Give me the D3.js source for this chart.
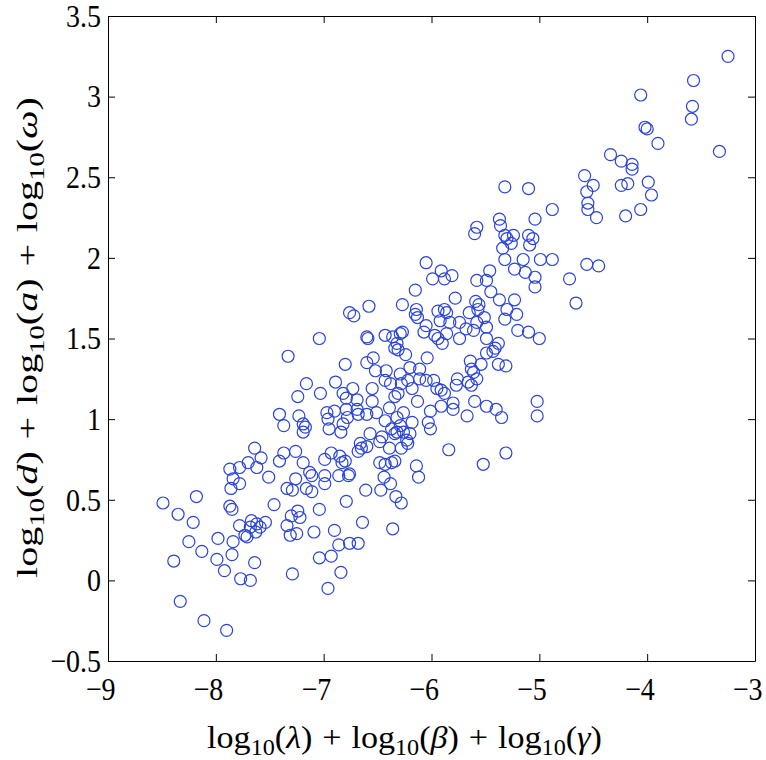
<!DOCTYPE html>
<html><head><meta charset="utf-8">
<script src="https://cdn.jsdelivr.net/npm/d3@7"></script>
<style>body{margin:0;background:#fff} text{font-family:"Liberation Serif","Times New Roman",serif}</style>
</head><body><svg id="c" width="766" height="760"></svg>
<script>
const xValues=[-8.49,-8.18,-8.35,-8.21,-8.25,-8.13,-8.39,-7.98,-7.84,-7.85,-7.99,-7.92,-7.77,-7.68,-7.64,-8.33,-8.11,-7.90,-7.29,-7.87,
-7.78,-7.62,-7.51,-7.84,-7.78,-7.86,-7.87,-7.85,-7.46,-7.78,-7.67,-7.73,-7.71,-7.63,-7.62,-7.54,-7.59,-7.68,-7.26,-7.34,
-7.29,-7.16,-7.11,-7.13,-7.11,-7.34,-7.31,-7.25,-7.30,-7.24,-7.22,-7.09,-7.04,-7.04,-7.04,-7.33,-7.16,-7.24,-7.03,-7.41,
-7.37,-7.23,-7.19,-7.17,-7.19,-7.64,-7.58,-7.37,-7.26,-7.41,-7.19,-7.70,-6.99,-6.99,-6.86,-6.77,-6.76,-6.61,-6.79,-6.47,
-6.44,-6.38,-6.33,-6.28,-6.12,-6.14,-5.52,-6.64,-6.36,-6.90,-6.86,-6.76,-6.68,-6.93,-6.84,-6.96,-6.60,-6.59,-6.43,-6.36,
-6.29,-6.27,-6.32,-6.34,-6.31,-6.07,-6.05,-5.97,-5.94,-5.90,-5.86,-5.74,-5.68,-5.61,-5.49,-6.24,-6.04,-5.49,-5.64,-5.54,
-5.63,-5.61,-6.80,-6.60,-6.54,-6.52,-6.42,-6.20,-6.11,-6.29,-6.43,-6.38,-6.28,-6.22,-6.18,-6.11,-6.05,-5.98,-5.95,-5.91,
-5.88,-5.76,-5.77,-5.66,-5.63,-5.58,-6.89,-6.73,-6.55,-6.82,-6.79,-6.69,-6.55,-6.34,-6.31,-6.13,-5.80,-5.80,-5.60,-5.49,
-5.67,-5.91,-6.01,-6.03,-6.01,-6.39,-6.26,-6.51,-6.60,-6.69,-6.68,-6.79,-6.78,-6.90,-6.97,-6.96,-6.95,-6.82,-6.84,-6.43,
-6.32,-6.18,-6.29,-6.37,-6.32,-6.34,-6.26,-6.23,-6.20,-6.57,-6.46,-6.39,-6.28,-6.66,-6.60,-6.65,-5.84,-6.93,-6.99,-6.85,
-6.80,-6.83,-6.48,-6.43,-6.37,-6.34,-6.68,-6.48,-6.22,-5.58,-5.60,-6.05,-5.91,-5.81,-5.99,-5.88,-5.58,-5.49,-5.46,-6.15,
-5.78,-5.45,-6.58,-6.76,-6.72,-6.27,-6.14,-6.15,-6.13,-5.94,-5.88,-5.86,-5.92,-5.65,-5.59,-5.56,-5.57,-5.83,-5.74,-5.58,
-5.51,-5.49,-5.20,-5.10,-5.00,-5.38,-5.41,-5.43,-5.38,-5.31,-5.02,-5.02,-5.40,-5.35,-5.31,-5.32,-5.10,-4.58,-4.50,-4.56,
-4.55,-4.55,-4.47,-4.88,-5.04,-5.37,-5.36,-5.32,-5.24,-5.30,-5.26,-5.34,-5.10,-5.06,-5.09,-5.32,-5.15,-4.99,-4.88,-5.23,
-5.13,-5.04,-5.04,-4.72,-4.56,-4.45,-4.66,-5.37,-5.23,-5.30,-5.21,-5.32,-4.14,-4.24,-4.18,-3.99,-3.96,-4.06,-4.20,-3.25,
-3.57,-4.06,-3.58,-3.59,-4.02,-4.00,-3.90,-3.33,-4.34,-4.24,-4.14];
const yValues=[0.48,0.52,0.41,0.36,0.24,0.18,0.12,0.26,0.24,0.16,0.13,0.06,0.01,0.00,0.11,-0.13,-0.25,-0.31,0.04,0.69,
0.70,0.70,0.64,0.63,0.60,0.57,0.46,0.44,0.47,0.34,0.37,0.28,0.27,0.30,0.35,0.36,0.33,0.33,0.63,0.57,
0.56,0.57,0.55,0.67,0.65,0.34,0.28,0.29,0.40,0.43,0.39,0.30,0.44,0.14,1.50,1.39,1.22,1.14,1.16,1.03,
0.96,1.02,0.97,0.95,0.92,0.82,0.76,0.79,0.80,0.74,0.73,0.73,0.65,0.60,0.65,0.65,0.66,0.56,0.49,0.56,
0.64,0.60,0.52,0.48,0.64,0.71,0.72,0.36,0.32,0.31,0.22,0.23,0.23,0.15,0.05,-0.05,1.51,1.50,1.52,1.51,
1.53,1.54,1.47,1.44,1.43,1.54,1.58,1.52,1.50,1.47,1.53,1.50,1.56,1.55,1.50,1.40,1.38,1.41,1.36,1.34,
1.31,1.29,1.34,1.35,1.38,1.30,1.30,1.32,1.31,1.28,1.24,1.22,1.22,1.24,1.19,1.25,1.24,1.24,1.19,1.18,
1.16,1.25,1.21,1.23,1.21,1.25,1.23,1.19,1.19,1.16,1.13,1.12,1.11,1.14,1.16,1.11,1.10,1.06,1.11,1.08,
1.02,1.08,1.05,0.98,0.94,1.07,1.04,1.04,1.03,1.06,1.03,1.06,1.01,1.05,1.04,1.00,0.94,0.97,0.92,0.99,
1.01,0.98,0.96,0.94,0.92,0.91,0.92,0.87,0.91,0.91,0.89,0.82,0.82,0.85,0.83,0.82,0.81,0.79,0.75,0.77,
0.74,0.73,0.73,0.72,0.73,0.74,0.80,0.86,0.85,2.19,2.15,1.97,1.92,1.89,1.87,1.87,1.86,1.86,1.92,1.80,
1.75,1.79,1.70,1.66,1.64,1.71,1.68,1.65,1.63,1.67,1.68,1.66,1.61,1.66,1.73,1.71,1.68,1.60,1.60,1.60,
1.63,1.57,1.55,1.54,1.50,1.47,1.44,1.42,1.34,1.33,1.11,1.02,1.06,1.01,0.79,2.44,2.43,2.51,2.45,2.41,
2.34,2.30,2.25,2.30,2.24,2.24,2.20,2.14,2.14,2.12,2.09,2.06,2.14,2.12,2.08,1.99,1.99,1.99,1.99,1.93,
1.91,1.88,1.82,1.87,1.96,1.95,1.72,1.74,1.74,1.68,1.65,1.62,2.55,2.45,2.46,2.47,2.39,2.30,2.26,3.25,
3.10,3.01,2.94,2.86,2.81,2.80,2.71,2.66,2.64,2.60,2.58];
const xTicks=[-9,-8,-7,-6,-5,-4,-3];
const yTicks=[-0.5,0,0.5,1,1.5,2,2.5,3,3.5];
const xDomain=[-9,-3], yDomain=[-0.5,3.5];

const svg=d3.select("#c");
const m={l:108,r:755,t:16,b:661};
const x=d3.scaleLinear().domain(xDomain).range([m.l,m.r]);
const y=d3.scaleLinear().domain(yDomain).range([m.b,m.t]);
const fmt=d3.format("~g");
const font='"Liberation Serif","Times New Roman",serif';
const tk=7, fs=28, sy=1.15;

svg.append("g").selectAll("circle").data(d3.range(xValues.length)).join("circle")
  .attr("cx",i=>x(xValues[i])).attr("cy",i=>y(yValues[i])).attr("r",6)
  .attr("fill","none").attr("stroke","#2a44dc").attr("stroke-width",1.2);

function style(g){
  g.attr("font-family",null).attr("font-size",null);
  g.selectAll("path,line").attr("stroke","#000").attr("stroke-width",1);
  g.selectAll("text").style("font-family",font).style("font-size",fs+"px").attr("fill","#000");
}
const gx=svg.append("g").attr("transform",`translate(0,${m.b})`)
  .call(d3.axisBottom(x).tickValues(xTicks).tickFormat(fmt).tickSizeInner(-tk).tickSizeOuter(0).tickPadding(14)).call(style);
gx.selectAll(".tick text").attr("text-anchor","end").attr("x",7).attr("transform",`scale(1,${sy})`);
svg.append("g").attr("transform",`translate(0,${m.t})`)
  .call(d3.axisTop(x).tickValues(xTicks).tickFormat("").tickSizeInner(-tk).tickSizeOuter(0)).call(style);
const gy=svg.append("g").attr("transform",`translate(${m.l},0)`)
  .call(d3.axisLeft(y).tickValues(yTicks).tickFormat(fmt).tickSizeInner(-tk).tickSizeOuter(0).tickPadding(7)).call(style);
gy.selectAll(".tick text").attr("transform",`scale(1,${sy})`);
svg.append("g").attr("transform",`translate(${m.r},0)`)
  .call(d3.axisRight(y).tickValues(yTicks).tickFormat("").tickSizeInner(-tk).tickSizeOuter(0)).call(style);

function mathLabel(t, parts){
  t.style("font-family",font).style("font-size","31px").attr("fill","#000");
  let shift=0;
  parts.forEach(p=>{
    if(p.sub){
      t.append("tspan").style("font-size","22px").attr("dy",7).text(p.sub);
      shift=-7;
    } else {
      const s=t.append("tspan").text(p.t);
      if(shift){ s.attr("dy",shift); shift=0; }
      if(p.dx) s.attr("dx",p.dx);
      if(p.i) s.style("font-style","italic");
    }
  });
}
const xParts=[{t:"log"},{sub:"10"},{t:"("},{t:"λ",i:1},{t:")"},{t:"+",dx:9},{t:"log",dx:9},{sub:"10"},{t:"("},{t:"β",i:1},{t:")"},{t:"+",dx:9},{t:"log",dx:9},{sub:"10"},{t:"("},{t:"γ",i:1},{t:")"}];
const yParts=[{t:"log"},{sub:"10"},{t:"("},{t:"d",i:1},{t:")"},{t:"+",dx:9},{t:"log",dx:9},{sub:"10"},{t:"("},{t:"a",i:1},{t:")"},{t:"+",dx:9},{t:"log",dx:9},{sub:"10"},{t:"("},{t:"ω",i:1},{t:")"}];

const xl=svg.append("text").attr("text-anchor","middle");
mathLabel(xl,xParts);
const wx=xl.node().getBBox().width;
xl.attr("transform",`translate(404.5,748) scale(${395/wx},1.05)`);

const yl=svg.append("text").attr("text-anchor","middle");
mathLabel(yl,yParts);
const wy=yl.node().getBBox().width;
yl.attr("transform",`translate(37,337.5) rotate(-90) scale(${481/wy},0.95)`);
</script></body></html>
